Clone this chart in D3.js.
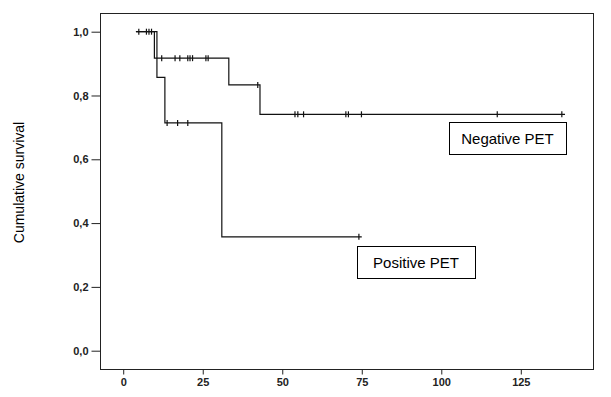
<!DOCTYPE html>
<html lang="en">
<head>
    <meta charset="UTF-8">
    <title>Cumulative survival by PET result</title>
    <style>
        body {
            margin: 0;
            padding: 0;
            background-color: #fff;
        }
        .tick text {
            font-family: "Liberation Sans", Arial, sans-serif;
            font-size: 11px;
            font-weight: bold;
            fill: #222;
        }
        .tick line, .domain {
            stroke: #222;
        }
        .label {
            font-family: "Liberation Sans", Arial, sans-serif;
            font-size: 15px;
            fill: #000;
        }
    </style>
</head>
<body>

<div id="chart"></div>

<script src="https://d3js.org/d3.v7.min.js"></script>
<script>
    // Kaplan-Meier steps: [time, survival]
    const negSteps = [[4, 1.0], [9.8, 0.917], [33.2, 0.833], [43.0, 0.741]];
    const negEnd = 138.9;
    const negCensored = [
        [4.9, 1.0], [7.3, 1.0], [8.1, 1.0], [8.9, 1.0],
        [12.1, 0.917], [16.3, 0.917], [17.8, 0.917], [20.3, 0.917],
        [21.0, 0.917], [21.8, 0.917], [26.0, 0.917], [26.7, 0.917],
        [42.3, 0.833],
        [54.0, 0.741], [54.9, 0.741], [56.7, 0.741], [70.0, 0.741],
        [70.8, 0.741], [74.9, 0.741], [117.6, 0.741], [137.9, 0.741]
    ];

    const posSteps = [[4, 1.0], [10.6, 0.857], [13.1, 0.714], [31.0, 0.357]];
    const posEnd = 75;
    const posCensored = [[13.8, 0.714], [17.1, 0.714], [20.3, 0.714], [74.1, 0.357]];

    const xTicks = [0, 25, 50, 75, 100, 125];
    const yTicks = [0, 0.2, 0.4, 0.6, 0.8, 1.0];

    const W = 611, H = 397;
    const plot = {left: 100, right: 593, top: 13, bottom: 369};

    const svg = d3.select("#chart")
        .append("svg")
        .attr("width", W)
        .attr("height", H);

    const x = d3.scaleLinear()
        .domain([-7.3, 147.7])
        .range([plot.left, plot.right]);

    const y = d3.scaleLinear()
        .domain([-0.0574, 1.0586])
        .range([plot.bottom, plot.top]);

    // frame
    svg.append("rect")
        .attr("x", plot.left + 0.5)
        .attr("y", plot.top + 0.5)
        .attr("width", plot.right - plot.left)
        .attr("height", plot.bottom - plot.top)
        .attr("fill", "none")
        .attr("stroke", "#222");

    // axes
    const fmt = d => d3.format(".1f")(d).replace(".", ",");

    const yAxis = svg.append("g")
        .attr("transform", `translate(${plot.left + 0.5},0)`)
        .call(d3.axisLeft(y).tickValues(yTicks).tickFormat(fmt).tickSize(9).tickPadding(3));
    yAxis.select(".domain").remove();

    const xAxis = svg.append("g")
        .attr("transform", `translate(0,${plot.bottom + 0.5})`)
        .call(d3.axisBottom(x).tickValues(xTicks).tickSize(5).tickPadding(4));
    xAxis.select(".domain").remove();

    // y title
    svg.append("text")
        .attr("class", "label")
        .attr("transform", `translate(24,${182.5}) rotate(-90)`)
        .attr("text-anchor", "middle")
        .style("font-size", "14px")
        .text("Cumulative survival");

    // survival curves
    const line = d3.line()
        .x(d => x(d[0]))
        .y(d => y(d[1]))
        .curve(d3.curveStepAfter);

    function drawCurve(steps, end, censored) {
        const pts = steps.concat([[end, steps[steps.length - 1][1]]]);
        svg.append("path")
            .datum(pts)
            .attr("fill", "none")
            .attr("stroke", "#111")
            .attr("stroke-width", 1.2)
            .attr("d", line);

        svg.append("g")
            .selectAll("line")
            .data(censored)
            .enter()
            .append("line")
            .attr("x1", d => x(d[0]))
            .attr("x2", d => x(d[0]))
            .attr("y1", d => y(d[1]) - 3)
            .attr("y2", d => y(d[1]) + 3)
            .attr("stroke", "#111")
            .attr("stroke-width", 1.2);
    }

    drawCurve(negSteps, negEnd, negCensored);
    drawCurve(posSteps, posEnd, posCensored);

    // annotation boxes
    function labelBox(text, x0, y0, w, h, baseline) {
        svg.append("rect")
            .attr("x", x0 + 0.5)
            .attr("y", y0 + 0.5)
            .attr("width", w)
            .attr("height", h)
            .attr("fill", "#fff")
            .attr("stroke", "#000");
        svg.append("text")
            .attr("class", "label")
            .attr("x", x0 + w / 2)
            .attr("y", baseline)
            .attr("text-anchor", "middle")
            .text(text);
    }

    labelBox("Negative PET", 449, 122, 117, 32, 144);
    labelBox("Positive PET", 357, 246, 118, 32, 268);
</script>

</body>
</html>
